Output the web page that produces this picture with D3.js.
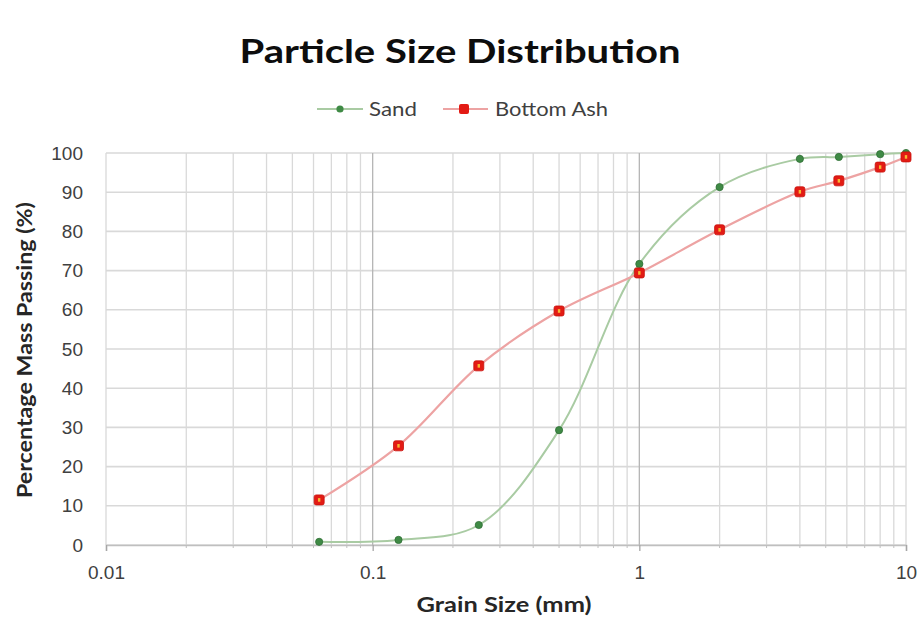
<!DOCTYPE html>
<html>
<head>
<meta charset="utf-8">
<script src="https://cdn.jsdelivr.net/npm/d3@7"></script>
<style>
  html, body { margin: 0; padding: 0; background: #fff; }
  svg { display: block; font-family: Lato, "Open Sans", sans-serif; }
</style>
</head>
<body>
<svg id="chart" width="920" height="617"></svg>
<script>
// Sieve sizes (mm) and cumulative percentage passing
const sieveSizes = [0.063, 0.125, 0.25, 0.5, 1, 2, 4, 5.6, 8, 10];
const sandPassing = [0.8, 1.3, 5.1, 29.3, 71.7, 91.3, 98.5, 99.0, 99.7, 100];
const ashPassing = [11.5, 25.3, 45.7, 59.7, 69.4, 80.4, 90.1, 92.9, 96.4, 99.0];
const seriesNames = ["Sand", "Bottom Ash"];
const xTickValues = [0.01, 0.1, 1, 10];
const xTickLabels = ["0.01", "0.1", "1", "10"];
const yTickValues = [0, 10, 20, 30, 40, 50, 60, 70, 80, 90, 100];

const svg = d3.select("#chart");
const m = { left: 106, right: 906, top: 153, bottom: 545 };

const x = d3.scaleLog().domain([0.01, 10]).range([m.left, m.right]);
const y = d3.scaleLinear().domain([0, 100]).range([m.bottom, m.top]);

// Minor log gridlines (2..9 in each decade)
const minor = [];
[0.01, 0.1, 1].forEach(d => { for (let k = 2; k <= 9; k++) minor.push(d * k); });

const grid = svg.append("g");
grid.selectAll("line.vminor").data(minor).enter().append("line")
  .attr("x1", d => x(d)).attr("x2", d => x(d))
  .attr("y1", m.top).attr("y2", m.bottom)
  .attr("stroke", "#d9d9d9").attr("stroke-width", 1.3);
grid.selectAll("line.h").data(yTickValues).enter().append("line")
  .attr("x1", m.left).attr("x2", m.right)
  .attr("y1", d => y(d)).attr("y2", d => y(d))
  .attr("stroke", "#d9d9d9").attr("stroke-width", 1.6);
grid.selectAll("line.vmajor").data(xTickValues).enter().append("line")
  .attr("x1", d => x(d)).attr("x2", d => x(d))
  .attr("y1", m.top).attr("y2", m.bottom)
  .attr("stroke", d => (d === 0.01 || d === 10) ? "#d9d9d9" : "#b5b5b5").attr("stroke-width", 1.3);

// X axis with minor ticks
const xAxis = d3.axisBottom(x).tickValues(xTickValues)
  .tickFormat((d, i) => xTickLabels[i]).tickSize(6);
const gx = svg.append("g").attr("transform", `translate(0,${m.bottom})`).call(xAxis);
gx.select(".domain").attr("stroke", "#bfbfbf").attr("stroke-width", 1.5);
gx.selectAll(".tick line").attr("stroke", "#a6a6a6").attr("stroke-width", 1.3);
gx.selectAll(".tick text").attr("font-size", 19).attr("fill", "#404040")
  .attr("y", 34).attr("dy", 0);
gx.selectAll("line.minor").data(minor).enter().append("line")
  .attr("x1", d => x(d)).attr("x2", d => x(d)).attr("y1", 0).attr("y2", 3)
  .attr("stroke", "#bfbfbf").attr("stroke-width", 1);

// Y axis labels
const yAxis = d3.axisLeft(y).tickValues(yTickValues).tickSize(0).tickPadding(23);
const gy = svg.append("g").attr("transform", `translate(${m.left},0)`).call(yAxis);
gy.select(".domain").remove();
gy.selectAll(".tick text").attr("font-size", 19).attr("fill", "#404040");

// Series lines and markers
const line = d3.line().x(d => x(d[0])).y(d => y(d[1])).curve(d3.curveCatmullRom.alpha(0.5));
const sandData = sieveSizes.map((s, i) => [s, sandPassing[i]]);
const ashData = sieveSizes.map((s, i) => [s, ashPassing[i]]);

svg.append("path").datum(sandData).attr("d", line)
  .attr("fill", "none").attr("stroke", "#a9cba3").attr("stroke-width", 2);
svg.append("path").datum(ashData).attr("d", line)
  .attr("fill", "none").attr("stroke", "#eda3a3").attr("stroke-width", 2.2);

svg.append("g").selectAll("circle").data(sandData).enter().append("circle")
  .attr("cx", d => x(d[0])).attr("cy", d => y(d[1])).attr("r", 3.6)
  .attr("fill", "#3f8a45").attr("stroke", "#2f6e35").attr("stroke-width", 0.8);

const ashMarks = svg.append("g").selectAll("g").data(ashData).enter().append("g")
  .attr("transform", d => `translate(${x(d[0])},${y(d[1])})`);
ashMarks.append("rect").attr("x", -5).attr("y", -5).attr("width", 10).attr("height", 10)
  .attr("rx", 2).attr("fill", "#e31b14").attr("stroke", "#c8120c").attr("stroke-width", 0.8);
ashMarks.append("rect").attr("x", -1.2).attr("y", -1.8).attr("width", 2.4).attr("height", 3.6)
  .attr("fill", "#f7b733");

// Title
svg.append("text").attr("x", 460).attr("y", 63).attr("text-anchor", "middle")
  .attr("font-size", 33).attr("font-weight", 700).attr("fill", "#0d0d0d")
  .attr("textLength", 441).attr("lengthAdjust", "spacingAndGlyphs")
  .text("Particle Size Distribution");

// Legend
const legend = svg.append("g").attr("transform", "translate(0,109)");
legend.append("line").attr("x1", 317).attr("x2", 363).attr("y1", 0).attr("y2", 0)
  .attr("stroke", "#a9cba3").attr("stroke-width", 2);
legend.append("circle").attr("cx", 340).attr("cy", 0).attr("r", 3.6).attr("fill", "#3f8a45");
legend.append("text").attr("x", 369).attr("y", 6.5).attr("font-size", 19).attr("fill", "#404040")
  .attr("textLength", 48).attr("lengthAdjust", "spacingAndGlyphs")
  .text(seriesNames[0]);
legend.append("line").attr("x1", 443).attr("x2", 488).attr("y1", 0).attr("y2", 0)
  .attr("stroke", "#eda3a3").attr("stroke-width", 2.2);
legend.append("rect").attr("x", 459).attr("y", -5).attr("width", 10).attr("height", 10)
  .attr("rx", 2).attr("fill", "#e31b14");
legend.append("text").attr("x", 495).attr("y", 6.5).attr("font-size", 19).attr("fill", "#404040")
  .attr("textLength", 113).attr("lengthAdjust", "spacingAndGlyphs")
  .text(seriesNames[1]);

// Axis titles
svg.append("text").attr("x", 504).attr("y", 612).attr("text-anchor", "middle")
  .attr("font-size", 20).attr("font-weight", 700).attr("fill", "#262626")
  .attr("textLength", 175).attr("lengthAdjust", "spacingAndGlyphs")
  .text("Grain Size (mm)");
svg.append("text").attr("transform", "translate(32,350) rotate(-90)").attr("text-anchor", "middle")
  .attr("font-size", 20).attr("font-weight", 700).attr("fill", "#262626")
  .attr("textLength", 296).attr("lengthAdjust", "spacingAndGlyphs")
  .text("Percentage Mass Passing  (%)");
</script>
</body>
</html>
